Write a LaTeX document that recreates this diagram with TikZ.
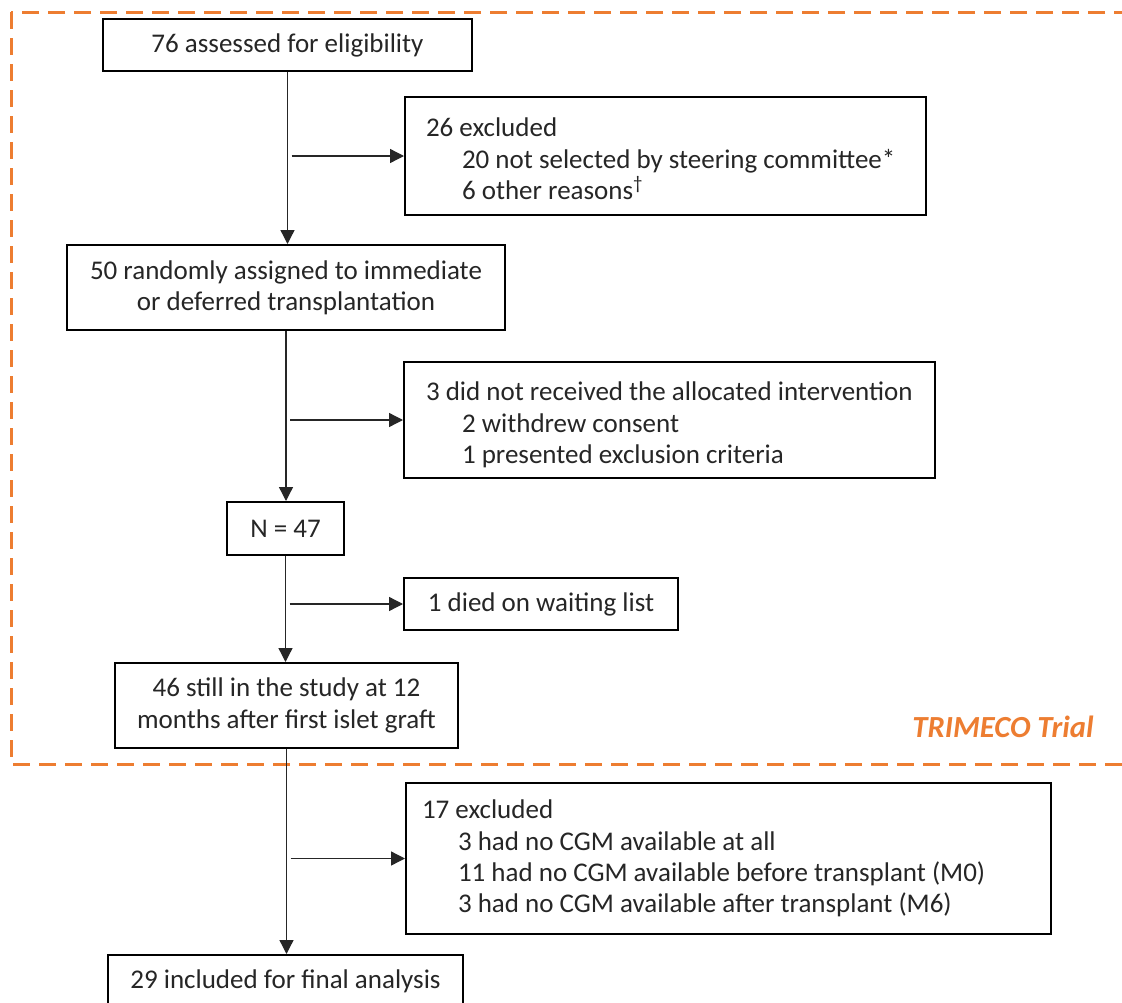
\documentclass[tikz,border=0pt]{standalone}
\usepackage{fontspec}
\setmainfont{Carlito}
\usetikzlibrary{arrows.meta,calc}
\definecolor{trorange}{HTML}{ED7D31}
\definecolor{txt}{HTML}{262626}
\newdimen\pxu \pxu=0.75pt
\newcommand{\indln}[1]{\hbox to\hsize{\hspace*{36\pxu}#1\hfil}}
\newcommand{\firstln}[1]{\hbox to\hsize{#1\hfil}}
\begin{document}
\begin{tikzpicture}[x=0.75pt,y=-0.75pt,
  font=\fontsize{20.25}{23.5}\selectfont,
  box/.style={draw=black, line width=1.5pt, rectangle, inner sep=0pt, align=center, text=txt},
  lbox/.style={draw=black, line width=1.5pt, rectangle, inner sep=0pt, text=txt},
  arr/.style={-{Triangle[length=10.5pt,width=10.5pt]}, line width=1pt, draw=txt},
  trial/.style={font=\fontsize{23}{27}\selectfont\bfseries\itshape, text=trorange}]
\useasboundingbox (0,0) rectangle (1122,1003);
\clip (0,0) rectangle (1122,1003);
\fill[white] (0,0) rectangle (1122,1003);
% dashed frame
\draw[trorange, line width=2.25pt, dash pattern=on 12.75pt off 6.75pt] (11,12) rectangle (1145,764);
% boxes
\node[box, minimum width=369\pxu, minimum height=52\pxu] (b1) at (287.5,45) {76 assessed for eligibility};
\node[lbox, minimum width=521\pxu, minimum height=118\pxu] (b2) at (665.5,156)
  {\parbox{479\pxu}{\vspace*{6\pxu}\firstln{26 excluded}\indln{20 not selected by steering committee*}\indln{6 other reasons\textsuperscript{†}}}};
\node[box, minimum width=438\pxu, minimum height=85\pxu] (b3) at (286,287.5)
  {50 randomly assigned to immediate\\or deferred transplantation};
\node[lbox, minimum width=531\pxu, minimum height=116\pxu] (b4) at (669.5,420)
  {\parbox{487\pxu}{\vspace*{10\pxu}\firstln{3 did not received the allocated intervention}\indln{2 withdrew consent}\indln{1 presented exclusion criteria}}};
\node[box, minimum width=117\pxu, minimum height=53\pxu] (b5) at (285.5,528.5) {N = 47};
\node[box, minimum width=274\pxu, minimum height=52\pxu] (b6) at (541,604) {1 died on waiting list};
\node[box, minimum width=343\pxu, minimum height=85\pxu] (b7) at (286.5,705.5)
  {46 still in the study at 12\\months after first islet graft};
\node[lbox, minimum width=645\pxu, minimum height=151\pxu] (b8) at (728.5,858.5)
  {\parbox{613\pxu}{\firstln{17 excluded}\indln{3 had no CGM available at all}\indln{11 had no CGM available before transplant (M0)}\indln{3 had no CGM available after transplant (M6)}}};
\node[box, minimum width=355\pxu, minimum height=52\pxu] (b9) at (285.5,981) {29 included for final analysis};
\node[trial] (tt) at (1003,727) {TRIMECO Trial};
% spine
\draw[arr] (b1.south) -- (b1.south |- b3.north);
\draw[arr] (b3.south) -- (b3.south |- b5.north);
\draw[arr] (b5.south) -- (b5.south |- b7.north);
\draw[arr] (b7.south) -- (b7.south |- b9.north);
% side arrows
\draw[arr] ($(b1.south |- b2.west)+(4,0)$) -- (b2.west);
\draw[arr] ($(b3.south |- b4.west)+(4,0)$) -- (b4.west);
\draw[arr] ($(b5.south |- b6.west)+(4,0)$) -- (b6.west);
\draw[arr] ($(b7.south |- b8.west)+(4,0)$) -- (b8.west);
\end{tikzpicture}
\end{document}
